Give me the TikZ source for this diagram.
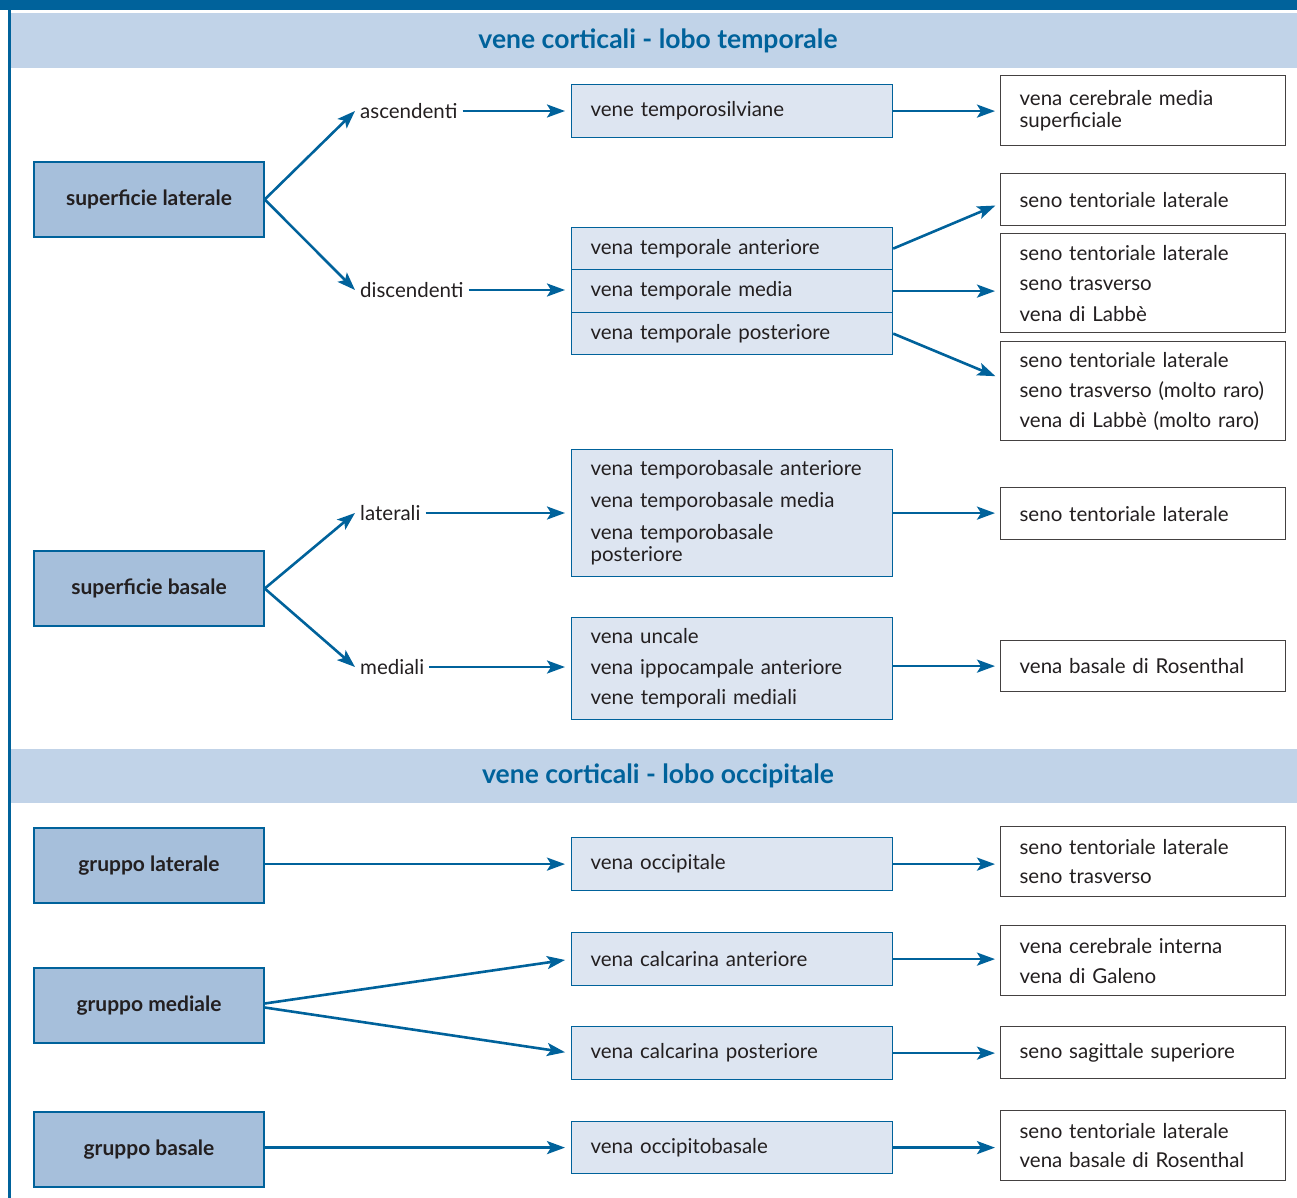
\documentclass[tikz,border=0pt]{standalone}
\usepackage{fontspec}
\setmainfont{Lato}
\usetikzlibrary{arrows.meta}
\definecolor{bandblu}{HTML}{00629B}
\definecolor{fasciachiara}{HTML}{C1D3E8}
\definecolor{boxscuro}{HTML}{A6BFDB}
\definecolor{boxchiaro}{HTML}{DDE5F1}
\definecolor{testo}{HTML}{231F20}
\begin{document}
\begin{tikzpicture}[x=1pt, y=-1pt,
    freccia/.style={draw=bandblu, line width=2.6pt, -{Stealth[length=18pt,width=13pt,inset=4pt]}},
    gruppo/.style={draw=bandblu, line width=1.4pt, fill=boxscuro, minimum width=230pt, minimum height=75pt,
        font=\fontsize{21}{24}\selectfont\bfseries, text=testo},
    vena/.style={draw=bandblu, line width=1.2pt, fill=boxchiaro, anchor=north west, minimum width=321pt,
        text width=283pt, inner xsep=19pt, align=left, font=\fontsize{20.5}{22}\selectfont, text=testo},
    sbocco/.style={draw=testo!85, line width=1.2pt, fill=white, anchor=north west, minimum width=285pt,
        text width=247pt, inner xsep=19pt, align=left, font=\fontsize{20.5}{22}\selectfont, text=testo},
    ramo/.style={anchor=west, inner xsep=5pt, font=\fontsize{20.5}{22}\selectfont, text=testo},
    titolo/.style={font=\fontsize{26.5}{30}\selectfont\bfseries, text=bandblu}]
    \useasboundingbox (0,0) rectangle (1297,1198);

    % Cornice
    \fill[bandblu] (0,0) rectangle (1297,10);
    \fill[bandblu] (7.5,0) rectangle (10.5,1198);
    \fill[fasciachiara] (10.5,13) rectangle (1297,68);
    \fill[fasciachiara] (10.5,749) rectangle (1297,803);
    \node[titolo] (titTemp) at (658,41) {vene corticali - lobo temporale};
    \node[titolo] (titOcc) at (658,776) {vene corticali - lobo occipitale};

    % Lobo temporale: superfici
    \node[gruppo] (supLat) at (149,199.5) {superficie laterale};
    \node[gruppo] (supBas) at (149,588.5) {superficie basale};

    \node[ramo] (asc) at (355,111) {ascendenti};
    \node[ramo] (disc) at (355,290) {discendenti};
    \node[ramo] (lat) at (355,513) {laterali};
    \node[ramo] (med) at (355,667) {mediali};

    % Vene
    \node[vena, minimum height=53pt] (tempSilv) at (571,84) {vene temporosilviane};
    \node[vena, minimum height=42pt] (tempAnt) at (571,227) {vena temporale anteriore};
    \node[vena, minimum height=43pt] (tempMed) at (571,269) {vena temporale media};
    \node[vena, minimum height=42pt] (tempPost) at (571,312) {vena temporale posteriore};
    \node[vena, minimum height=127pt] (tempBas) at (571,449)
        {vena temporobasale anteriore\\[10pt]vena temporobasale media\\[10pt]vena temporobasale\\posteriore};
    \node[vena, minimum height=102pt] (uncale) at (571,617)
        {vena uncale\\[8.5pt]vena ippocampale anteriore\\[8.5pt]vene temporali mediali};

    % Sbocchi
    \node[sbocco, minimum height=70pt] (cerMed) at (1000,75) {vena cerebrale media\\superficiale};
    \node[sbocco, minimum height=52pt] (tent1) at (1000,173) {seno tentoriale laterale};
    \node[sbocco, minimum height=99pt] (tent2) at (1000,233)
        {seno tentoriale laterale\\[8.5pt]seno trasverso\\[8.5pt]vena di Labbè};
    \node[sbocco, minimum height=99pt] (tent3) at (1000,341)
        {seno tentoriale laterale\\[8pt]\mbox{seno trasverso (molto raro)}\\[8pt]\mbox{vena di Labbè (molto raro)}};
    \node[sbocco, minimum height=52pt] (tent4) at (1000,487) {seno tentoriale laterale};
    \node[sbocco, minimum height=51pt] (rosen1) at (1000,640) {vena basale di Rosenthal};

    % Frecce lobo temporale
    \draw[freccia] (supLat.east) -- (asc.west);
    \draw[freccia] (supLat.east) -- (disc.west);
    \draw[freccia] (supBas.east) -- (lat.west);
    \draw[freccia] (supBas.east) -- (med.west);
    \draw[freccia, shorten >=6pt] (asc.east) -- (asc.east -| tempSilv.west);
    \draw[freccia, shorten >=6pt] (disc.east) -- (disc.east -| tempMed.west);
    \draw[freccia, shorten >=6pt] (lat.east) -- (lat.east -| tempBas.west);
    \draw[freccia, shorten >=6pt] (med.east) -- (med.east -| uncale.west);
    \draw[freccia, shorten >=5pt] (tempSilv.east) -- (tempSilv.east -| cerMed.west);
    \draw[freccia, shorten >=5pt] (tempAnt.east) -- ([yshift=-4pt]tent1.west);
    \draw[freccia, shorten >=5pt] (tempMed.east) -- (tempMed.east -| tent2.west);
    \draw[freccia, shorten >=5pt] (tempPost.east) -- ([yshift=13pt]tent3.west);
    \draw[freccia, shorten >=5pt] (tempBas.east) -- (tempBas.east -| tent4.west);
    \draw[freccia, shorten >=5pt] (rosen1.west -| uncale.east) -- (rosen1.west);

    % Lobo occipitale
    \node[gruppo] (grLat) at (149,865.5) {gruppo laterale};
    \node[gruppo] (grMed) at (149,1005.5) {gruppo mediale};
    \node[gruppo] (grBas) at (149,1149.5) {gruppo basale};

    \node[vena, minimum height=53pt] (occ) at (571,837) {vena occipitale};
    \node[vena, minimum height=53pt] (calcAnt) at (571,932) {vena calcarina anteriore};
    \node[vena, minimum height=53pt] (calcPost) at (571,1026) {vena calcarina posteriore};
    \node[vena, minimum height=52pt] (occBas) at (571,1121) {vena occipitobasale};

    \node[sbocco, minimum height=70pt] (tent5) at (1000,826) {seno tentoriale laterale\\[7pt]seno trasverso};
    \node[sbocco, minimum height=70pt] (galeno) at (1000,925) {vena cerebrale interna\\[8pt]vena di Galeno};
    \node[sbocco, minimum height=52pt] (sagSup) at (1000,1026) {seno sagittale superiore};
    \node[sbocco, minimum height=70pt] (rosen2) at (1000,1110) {seno tentoriale laterale\\[7pt]vena basale di Rosenthal};

    % Frecce lobo occipitale
    \draw[freccia, shorten >=6pt] (grLat.east |- occ.west) -- (occ.west);
    \draw[freccia, shorten >=6pt] ([yshift=2pt]grMed.east) -- (calcAnt.west);
    \draw[freccia, shorten >=6pt] ([yshift=-2pt]grMed.east) -- (calcPost.west);
    \draw[freccia, shorten >=6pt] (grBas.east |- occBas.west) -- (occBas.west);
    \draw[freccia, shorten >=5pt] (occ.east) -- (occ.east -| tent5.west);
    \draw[freccia, shorten >=5pt] (calcAnt.east) -- (calcAnt.east -| galeno.west);
    \draw[freccia, shorten >=5pt] (calcPost.east) -- (calcPost.east -| sagSup.west);
    \draw[freccia, shorten >=5pt] (occBas.east) -- (occBas.east -| rosen2.west);
\end{tikzpicture}
\end{document}
